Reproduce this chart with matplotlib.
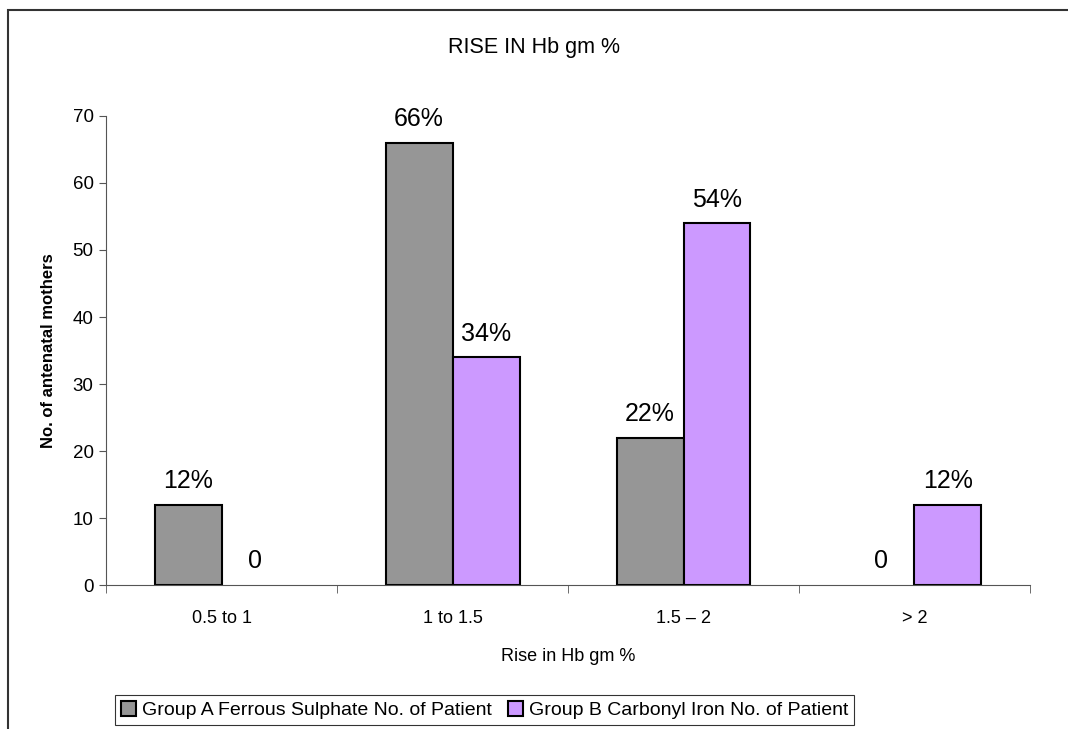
import numpy as np
import matplotlib
matplotlib.use("Agg")
import matplotlib.pyplot as plt
from matplotlib.patches import Rectangle

categories = ["0.5 to 1", "1 to 1.5", "1.5 \u2013 2", "> 2"]
group_a = [12, 66, 22, 0]
group_b = [0, 34, 54, 12]
labels_a = ["12%", "66%", "22%", "0"]
labels_b = ["0", "34%", "54%", "12%"]
names = ["Group A Ferrous Sulphate No. of Patient", "Group B Carbonyl Iron No. of Patient"]

arial = ["Liberation Sans", "DejaVu Sans"]

fig = plt.figure(figsize=(10.68, 7.29), dpi=100)
ax = fig.add_axes([0.0993, 0.1975, 0.8651, 0.6434])

x = np.arange(len(categories))
w = 0.29
bars_a = ax.bar(x - w / 2, group_a, w, color="#969696", edgecolor="black", linewidth=1.5, label=names[0])
bars_b = ax.bar(x + w / 2, group_b, w, color="#cc99ff", edgecolor="black", linewidth=1.5, label=names[1])

for bars, labs in ((bars_a, labels_a), (bars_b, labels_b)):
    for b, t in zip(bars, labs):
        ax.annotate(t, (b.get_x() + b.get_width() / 2, b.get_height()),
                    xytext=(0, 12), textcoords="offset points",
                    ha="center", va="baseline", fontsize=18, family=arial)

ax.set_xlim(-0.5, 3.5)
ax.set_ylim(0, 70)
ax.set_yticks(range(0, 71, 10))
ax.set_yticklabels([str(v) for v in range(0, 71, 10)], family=arial, fontsize=13.5)
ax.set_xticks(x)
ax.set_xticklabels(categories, family=arial, fontsize=13)
ax.set_xticks(np.arange(-0.5, 3.6, 1), minor=True)
ax.tick_params(axis="x", which="major", length=0, pad=18)
ax.tick_params(axis="x", which="minor", length=6, direction="out", color="#555555")
ax.tick_params(axis="y", length=5, direction="out", color="#555555", pad=4)
for s in ("top", "right"):
    ax.spines[s].set_visible(False)
for s in ("left", "bottom"):
    ax.spines[s].set_color("#555555")

ax.set_xlabel("Rise in Hb gm %", family=arial, fontsize=13, labelpad=15)
ax.set_ylabel("No. of antenatal mothers", family=arial, fontsize=12, fontweight="bold", labelpad=12)

fig.text(0.5, 1 - 48 / 729, "RISE IN Hb gm %", ha="center", va="center", family=arial, fontsize=15.5)

leg = fig.legend(loc="upper left", bbox_to_anchor=(115 / 1068, 1 - 695 / 729), borderaxespad=0,
                 ncol=2, frameon=True, fancybox=False, prop={"family": arial, "size": 14},
                 handlelength=0.8, handleheight=0.8, handletextpad=0.3, columnspacing=0.8,
                 borderpad=0.3)
leg.get_frame().set_edgecolor("black")
leg.get_frame().set_linewidth(0.8)

# zero-height bars show no outline (done after the legend copies the style)
for b in list(bars_a) + list(bars_b):
    if b.get_height() == 0:
        b.set_linewidth(0)

fig.add_artist(Rectangle((7.5 / 1068, -0.1), 1.2, 1.1 - 10 / 729, transform=fig.transFigure,
                         fill=False, edgecolor="#333333", linewidth=1.5))

fig.savefig("out.png", dpi=100)
